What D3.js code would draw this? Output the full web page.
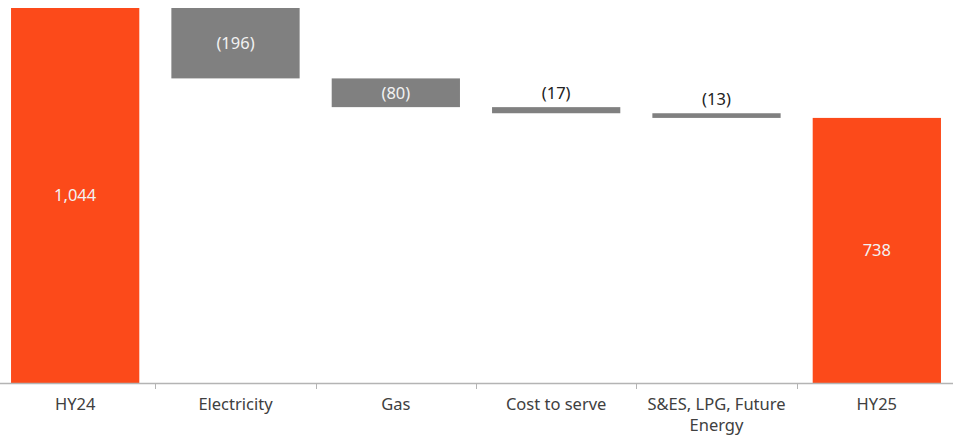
<!DOCTYPE html>
<html>
<head>
<meta charset="utf-8">
<script src="https://cdn.jsdelivr.net/npm/d3@7"></script>
<style>
  body { margin: 0; background: #fff; }
  svg { display: block; font-family: "Noto Sans", sans-serif; }
</style>
</head>
<body>
<svg id="chart" width="953" height="436"></svg>
<script>
const categories = ["HY24", "Electricity", "Gas", "Cost to serve", "S&ES, LPG, Future Energy", "HY25"];
const values = [1044, -196, -80, -17, -13, 738];
const isTotal = [true, false, false, false, false, true];
const valueLabels = ["1,044", "(196)", "(80)", "(17)", "(13)", "738"];

const svg = d3.select("#chart");
const baseY = 383;

// build waterfall steps
let running = 0;
const steps = categories.map((c, i) => {
  let y0, y1;
  if (isTotal[i]) {
    y0 = 0; y1 = values[i];
    running = values[i];
  } else {
    y1 = running;
    running += values[i];
    y0 = running;
  }
  return { cat: c, y0, y1, total: isTotal[i], label: valueLabels[i] };
});

const x = d3.scaleBand()
  .domain(categories)
  .range([-5, 957])
  .paddingInner(0.2)
  .paddingOuter(0.1);

const y = d3.scaleLinear()
  .domain([0, 1044])
  .range([baseY, 8]);

const step = x.step();

svg.append("g")
  .selectAll("rect")
  .data(steps)
  .join("rect")
  .attr("x", d => x(d.cat))
  .attr("y", d => y(d.y1))
  .attr("width", x.bandwidth())
  .attr("height", d => Math.max(1, y(d.y0) - y(d.y1)))
  .attr("fill", d => d.total ? "#fc4a1a" : "#808080");

// value labels: inside for tall bars, above for thin ones
svg.append("g")
  .selectAll("text")
  .data(steps)
  .join("text")
  .attr("x", d => x(d.cat) + x.bandwidth() / 2)
  .attr("y", d => {
    const h = y(d.y0) - y(d.y1);
    return h > 20 ? (y(d.y0) + y(d.y1)) / 2 : y(d.y1) - 14;
  })
  .attr("dy", "0.35em")
  .attr("text-anchor", "middle")
  .attr("font-size", 16.5)
  .attr("fill", d => (y(d.y0) - y(d.y1)) > 20 ? "#f2f2f2" : "#222")
  .text(d => d.label);

// axis line
svg.append("line")
  .attr("x1", 0).attr("x2", 953)
  .attr("y1", baseY + 0.5).attr("y2", baseY + 0.5)
  .attr("stroke", "#b4b4b4")
  .attr("stroke-width", 1.5);

// ticks between categories
svg.append("g")
  .selectAll("line")
  .data(categories.slice(1))
  .join("line")
  .attr("x1", d => Math.round(x(d) - step * 0.1) + 0.5)
  .attr("x2", d => Math.round(x(d) - step * 0.1) + 0.5)
  .attr("y1", baseY)
  .attr("y2", baseY + 6)
  .attr("stroke", "#b4b4b4")
  .attr("stroke-width", 1);

// category labels, wrapped into separate lines
const labelLines = [];
categories.forEach(c => {
  const lines = c === "S&ES, LPG, Future Energy" ? ["S&ES, LPG, Future", "Energy"] : [c];
  lines.forEach((ln, i) => labelLines.push({ cat: c, text: ln, row: i }));
});

svg.append("g")
  .selectAll("text")
  .data(labelLines)
  .join("text")
  .attr("x", d => x(d.cat) + x.bandwidth() / 2)
  .attr("y", d => 410 + d.row * 21)
  .attr("text-anchor", "middle")
  .attr("font-size", 16.5)
  .attr("fill", "#404040")
  .text(d => d.text);
</script>
</body>
</html>
